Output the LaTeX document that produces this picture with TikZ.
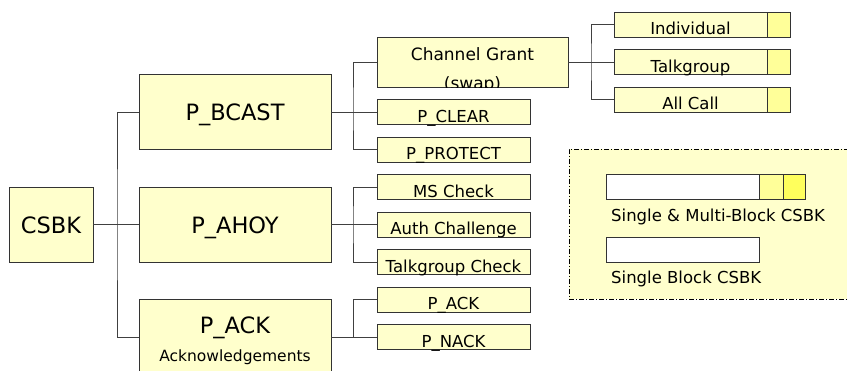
\documentclass[tikz,border=0pt]{standalone}
\usepackage{fontspec}
\setmainfont{DejaVu Sans}
\usetikzlibrary{positioning}
\definecolor{boxfill}{HTML}{FFFFCC}
\definecolor{tabfill}{HTML}{FFFF99}
\definecolor{tabbright}{HTML}{FFFF5C}
\definecolor{linegray}{HTML}{404040}

\begin{document}
\begin{tikzpicture}[x=1pt, y=-1pt, node distance=12.5pt,
    box/.style={draw=black!80, fill=boxfill, line width=1pt, inner sep=0pt, outer sep=0pt},
    bigbox/.style={box, minimum width=192pt, minimum height=75pt, text height=17pt, text depth=0pt, font=\fontsize{22.5}{27}\selectfont},
    smallbox/.style={box, minimum width=153pt, minimum height=25pt, text height=20pt, text depth=0pt, font=\fontsize{16.5}{20}\selectfont},
    tab/.style={box, fill=tabfill, minimum width=23pt, minimum height=25pt},
    link/.style={draw=linegray, line width=1pt},
    legendtext/.style={font=\fontsize{16.5}{20}\selectfont, inner sep=0pt, anchor=base west}]
    \clip (0,0) rectangle (847,370);
    % root and first level
    \node[bigbox, minimum width=84pt] (csbk) at (51,224.5) {CSBK};
    \node[bigbox] (bcast) at (235,112) {P\_BCAST};
    \node[bigbox] (ahoy) at (235,224.5) {P\_AHOY};
    \node[bigbox] (ack) at (235,337) {};
    \node[font=\fontsize{22.5}{27}\selectfont, anchor=base] (acktitle) at (235,333) {P\_ACK};
    \node[font=\fontsize{15.5}{18}\selectfont, anchor=base] (acknote) at (235,361) {Acknowledgements};
    % second level
    \node[box, minimum width=191pt, minimum height=50pt] (grant) at (472.5,62) {};
    \begin{scope}
        \clip (grant.north west) rectangle (grant.south east);
        \node[font=\fontsize{17}{20}\selectfont, anchor=base] (granttext) at (472.5,60) {Channel Grant};
        \node[font=\fontsize{17}{20}\selectfont, anchor=base] (grantswap) at (472.5,89.5) {(swap)};
    \end{scope}
    \node[smallbox, below=12.5pt of grant.south west, anchor=north west] (clear) {P\_CLEAR};
    \node[smallbox, below=of clear] (protect) {P\_PROTECT};
    \node[smallbox, below=of protect] (mscheck) {MS Check};
    \node[smallbox, below=of mscheck] (auth) {Auth Challenge};
    \node[smallbox, below=of auth] (tgcheck) {Talkgroup Check};
    \node[smallbox, below=of tgcheck] (pack) {P\_ACK};
    \node[smallbox, below=of pack] (nack) {P\_NACK};
    % third level
    \node[smallbox] (indiv) at (690.5,24.5) {Individual};
    \node[tab, right=0pt of indiv] (indivtab) {};
    \node[smallbox, below=of indiv] (talk) {Talkgroup};
    \node[tab, right=0pt of talk] (talktab) {};
    \node[smallbox, below=of talk] (allcall) {All Call};
    \node[tab, right=0pt of allcall] (allcalltab) {};
    % connectors
    \coordinate (jroot) at (117,224.5);
    \draw[link] (csbk) -- (ahoy);
    \draw[link] (bcast.west) -| (jroot) |- (ack.west);
    \coordinate (jbcast) at (353,112);
    \draw[link] (bcast) -- (clear);
    \draw[link] (grant.west) -| (jbcast) |- (protect.west);
    \coordinate (jahoy) at (353,224.5);
    \draw[link] (ahoy) -- (auth);
    \draw[link] (mscheck.west) -| (jahoy) |- (tgcheck.west);
    \coordinate (jack) at (353,337);
    \draw[link] (ack) -- (nack);
    \draw[link] (pack.west) -| (jack);
    \coordinate (jgrant) at (591,62);
    \draw[link] (grant) -- (talk);
    \draw[link] (indiv.west) -| (jgrant) |- (allcall.west);
    % legend
    \node[draw=black, fill=boxfill, line width=0.8pt, dash pattern=on 5pt off 2pt on 1pt off 2pt, minimum width=285pt, minimum height=150pt, inner sep=0pt, outer sep=0pt, anchor=north west] (legend) at (569,149) {};
    \node[box, fill=white, minimum width=153pt, minimum height=25pt, anchor=north west] (multibar) at (606,174) {};
    \node[tab, minimum width=24pt, right=0pt of multibar] (multitab) {};
    \node[tab, fill=tabbright, minimum width=22pt, right=0pt of multitab] (multitabb) {};
    \node[legendtext] (multitext) at (611,221) {Single \& Multi-Block CSBK};
    \node[box, fill=white, minimum width=153pt, minimum height=25pt, anchor=north west] (singlebar) at (606,237) {};
    \node[legendtext] (singletext) at (611,283) {Single Block CSBK};
\end{tikzpicture}
\end{document}
